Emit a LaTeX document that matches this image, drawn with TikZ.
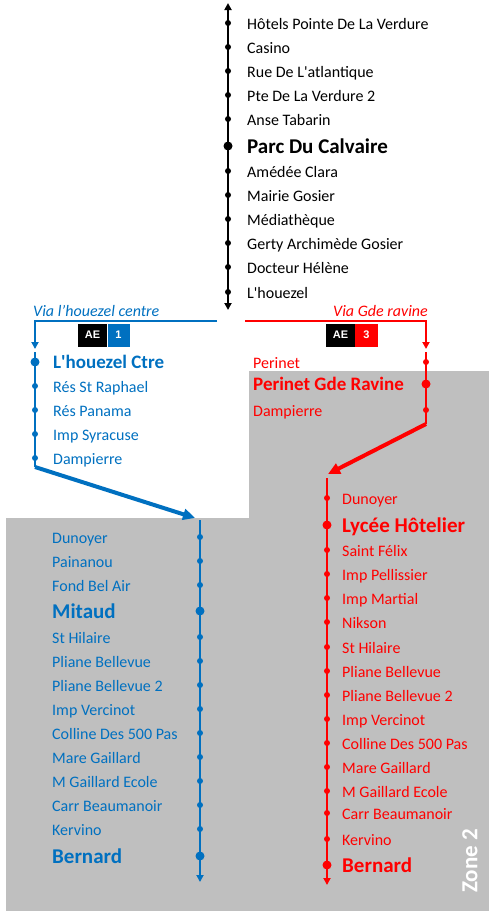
\documentclass[tikz,border=0pt]{standalone}
\usepackage{fontspec}
\setmainfont{Carlito}
\newfontfamily\badgefont{Liberation Sans}
\usetikzlibrary{arrows.meta}
\definecolor{lblue}{HTML}{0070C0}
\definecolor{lred}{HTML}{FF0000}
\definecolor{zgrey}{HTML}{BFBFBF}
\newcommand\sq{\XeTeXglyph\XeTeXcharglyph"27\relax}
\begin{document}
\begin{tikzpicture}[x=1pt,y=-1pt,
  stopname/.style={anchor=base west, inner sep=0pt, font=\fontsize{16}{16}\selectfont},
  bigname/.style={anchor=base west, inner sep=0pt, font=\bfseries\fontsize{21}{21}\selectfont},
  midname/.style={anchor=base west, inner sep=0pt, font=\bfseries\fontsize{19}{19}\selectfont},
  vianame/.style={anchor=base west, inner sep=0pt, font=\itshape\fontsize{16}{16}\selectfont},
  route/.style={line width=2pt},
  bendline/.style={line width=4pt, -{Triangle[length=12pt,width=11pt]}},
  tip/.style={-{Triangle[length=7pt,width=7pt]}},
  badge/.style={minimum height=23pt, inner sep=0pt, text=white, font=\badgefont\bfseries\fontsize{11}{11}\selectfont},
]
\useasboundingbox (0,0) rectangle (489,911);
% zone 2 background
\fill[zgrey] (6,518) -- (249,518) -- (249,371) -- (489,371) -- (489,911) -- (6,911) -- cycle;
\node[rotate=90, text=white, font=\bfseries\fontsize{23}{23}\selectfont] (zone) at (470,861) {Zone 2};

% ---------- black trunk ----------
\coordinate (kt) at (228,3);
\coordinate (kb) at (228,310);
\draw[route, {Triangle[length=7pt,width=7pt]}-{Triangle[length=7pt,width=7pt]}] (kb) -- (kt);
\foreach \yy/\txt [count=\i] in {23/{Hôtels Pointe De La Verdure},47/Casino,71/{Rue De L\sq atlantique},95/{Pte De La Verdure 2},119/{Anse Tabarin},171/{Amédée Clara},195/{Mairie Gosier},219/{Médiathèque},243/{Gerty Archimède Gosier},267/{Docteur Hélène},292/{L\sq houezel}}{
  \fill (228,\yy) circle[radius=3pt];
  \node[stopname] (k\i) at (247,\yy+6) {\txt};
}
\fill (228,146) circle[radius=4.5pt];
\node[bigname] (kparc) at (247,153) {Parc Du Calvaire};

% ---------- blue branch ----------
\begin{scope}[color=lblue]
\coordinate (bh1) at (217,321);
\coordinate (bh2) at (35,321);
\coordinate (bh3) at (35,349);
\draw[route, tip] (bh1) -- (bh2) -- (bh3);
\node[vianame, text=lblue] (bvia) at (33,316) {Via l’houezel centre};
\coordinate (bu1) at (35,352);
\coordinate (bu2) at (35,467);
\coordinate (bd1) at (195,518);
\draw[route] (bu1) -- (bu2);
\draw[bendline] (bu2) -- (bd1);
\fill (35,362) circle[radius=4.5pt];
\node[midname, text=lblue] (bctre) at (53,368.5) {L\sq houezel Ctre};
\foreach \yy/\txt [count=\i] in {386/{Rés St Raphael},410/{Rés Panama},434/{Imp Syracuse},458/{Dampierre}}{
  \fill (35,\yy) circle[radius=3pt];
  \node[stopname, text=lblue] (bu\i n) at (53,\yy+6) {\txt};
}
\coordinate (bl1) at (200,520);
\coordinate (bl2) at (200,882);
\draw[route, tip] (bl1) -- (bl2);
\foreach \yy/\txt [count=\i] in {537/Dunoyer,561/Painanou,585/{Fond Bel Air},637/{St Hilaire},661/{Pliane Bellevue},685/{Pliane Bellevue 2},709/{Imp Vercinot},733/{Colline Des 500 Pas},757/{Mare Gaillard},781/{M Gaillard Ecole},805/{Carr Beaumanoir},829/{Kervino}}{
  \fill (200,\yy) circle[radius=3pt];
  \node[stopname, text=lblue] (bl\i n) at (52,\yy+6) {\txt};
}
\fill (200,611) circle[radius=4.5pt];
\node[bigname, text=lblue] (bmitaud) at (52,618) {Mitaud};
\fill (200,856) circle[radius=4.5pt];
\node[bigname, text=lblue] (bbern) at (52,863) {Bernard};
\end{scope}
\node[badge, fill=black, minimum width=29pt] (bae) at (92.5,335) {AE};
\node[badge, fill=lblue, minimum width=22pt] (bnum) at (118.5,335) {1};

% ---------- red branch ----------
\begin{scope}[color=lred]
\coordinate (rh1) at (245,321);
\coordinate (rh2) at (426,321);
\coordinate (rh3) at (426,349);
\draw[route, tip] (rh1) -- (rh2) -- (rh3);
\node[vianame, text=lred, anchor=base east] (rvia) at (428,316) {Via Gde ravine};
\coordinate (ru1) at (426,352);
\coordinate (ru2) at (426,424);
\coordinate (rd1) at (328,474);
\draw[route] (ru1) -- (ru2);
\draw[bendline] (ru2) -- (rd1);
\fill (426,362) circle[radius=3pt];
\node[stopname, text=lred] (rperinet) at (253,368) {Perinet};
\fill (426,384) circle[radius=4.5pt];
\node[midname, text=lred] (rpgr) at (253,390.5) {Perinet Gde Ravine};
\fill (426,410) circle[radius=3pt];
\node[stopname, text=lred] (rdamp) at (253,416) {Dampierre};
\coordinate (rl1) at (327,478);
\coordinate (rl2) at (327,885);
\draw[route, tip] (rl1) -- (rl2);
\foreach \yy/\txt [count=\i] in {498/Dunoyer,550/{Saint Félix},574/{Imp Pellissier},598/{Imp Martial},622/Nikson,647/{St Hilaire},671/{Pliane Bellevue},695/{Pliane Bellevue 2},719/{Imp Vercinot},743/{Colline Des 500 Pas},767/{Mare Gaillard},791/{M Gaillard Ecole},813/{Carr Beaumanoir},839/{Kervino}}{
  \fill (327,\yy) circle[radius=3pt];
  \node[stopname, text=lred] (rl\i n) at (342,\yy+6) {\txt};
}
\fill (327,525) circle[radius=4.5pt];
\node[bigname, text=lred] (rlycee) at (342,532) {Lycée Hôtelier};
\fill (327,865) circle[radius=4.5pt];
\node[bigname, text=lred] (rbern) at (342,872) {Bernard};
\end{scope}
\node[badge, fill=black, minimum width=29pt] (rae) at (340.5,335) {AE};
\node[badge, fill=lred, minimum width=23pt] (rnum) at (366.5,335) {3};
\end{tikzpicture}
\end{document}
